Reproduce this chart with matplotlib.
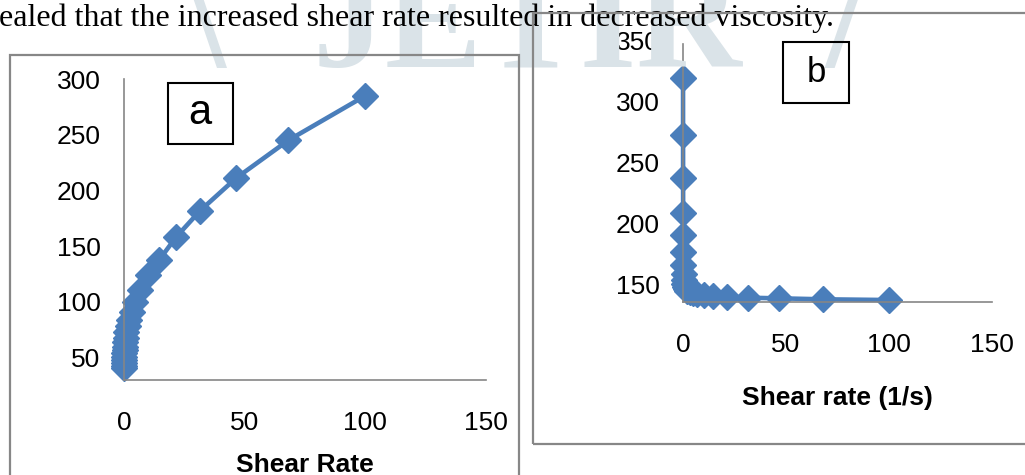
import matplotlib
matplotlib.use('Agg')
import matplotlib.pyplot as plt
from matplotlib.patches import Rectangle

# shear rates (1/s), shared by both panels
shear_rate = [0.0215, 0.0316, 0.0464, 0.0681, 0.1, 0.147, 0.215, 0.316, 0.464, 0.681,
              1, 1.47, 2.15, 3.16, 4.64, 6.81, 10, 14.7, 21.5, 31.6, 46.4, 68.1, 100]
# panel a: shear stress
stress_a = [41, 43, 45, 48, 51, 54, 57, 60, 64, 68,
            73, 78, 84, 91, 100, 111, 124, 138, 158, 182, 211, 245, 285]
# panel b: viscosity
visc_b = [319, 272, 237, 209, 191, 177, 166, 159, 154, 150.5,
          148, 146.5, 145.2, 144.2, 143.3, 142.6, 141.8, 141, 140.3, 139.5, 139, 138.2, 137.6]

xticks = [0, 50, 100, 150]
yticks_a = [50, 100, 150, 200, 250, 300]
yticks_b = [150, 200, 250, 300, 350]

W, H = 1025, 475
BLUE = '#4a7ebb'
GRAY = '#878787'
WM = '#dae3e8'
TICKFONT = ['Liberation Sans Narrow', 'Liberation Sans', 'DejaVu Sans']


def fx(x):
    return x / W


def fy(y):
    return 1 - y / H


def make_axes(fig, left, right, top, bottom):
    return fig.add_axes([fx(left), fy(bottom), (right - left) / W, (bottom - top) / H])


def style(ax):
    for s in ['top', 'right']:
        ax.spines[s].set_visible(False)
    for s in ['left', 'bottom']:
        ax.spines[s].set_color('#868686')
        ax.spines[s].set_linewidth(1.2)
    ax.patch.set_alpha(0)
    ax.tick_params(length=0)
    ax.tick_params(axis='x', pad=22)
    ax.tick_params(axis='y', pad=17)
    for lab in ax.get_xticklabels() + ax.get_yticklabels():
        lab.set_fontfamily(TICKFONT)
        lab.set_fontsize(19)


fig = plt.figure(figsize=(W / 100, H / 100), dpi=100)

# watermark
fig.text(fx(205), fy(67), '\\', family='Liberation Serif', weight='bold', fontsize=105,
         color=WM, ha='center', va='baseline', zorder=0)
fig.text(fx(527), fy(67), 'JETIR', family='Liberation Serif', weight='bold', fontsize=105,
         color=WM, ha='center', va='baseline', zorder=0)
fig.text(fx(846), fy(67), '/', family='Liberation Serif', weight='bold', fontsize=105,
         color=WM, ha='center', va='baseline', zorder=0)

# document text line
fig.text(fx(-1), fy(26), 'ealed that the increased shear rate resulted in decreased viscosity.',
         family='Liberation Serif', fontsize=23, ha='left', va='baseline', color='black', zorder=1)

# chart frames
fig.add_artist(Rectangle((fx(10), fy(520)), (519 - 10) / W, (520 - 55) / H, transform=fig.transFigure,
                         fill=False, edgecolor=GRAY, linewidth=1.6, zorder=2))
fig.add_artist(Rectangle((fx(533), fy(444)), (1100 - 533) / W, (444 - 13) / H, transform=fig.transFigure,
                         fill=False, edgecolor=GRAY, linewidth=1.6, zorder=2))

# panel a
ax1 = make_axes(fig, 124, 486, 79, 380)
ax1.plot(shear_rate, stress_a, color=BLUE, lw=3.3, marker='D', ms=13, mfc=BLUE, mec=BLUE, clip_on=False)
ax1.set_xlim(0, 150)
ax1.set_ylim(30, 300)
ax1.set_xticks(xticks)
ax1.set_yticks(yticks_a)
style(ax1)
ax1.set_xlabel('Shear Rate', fontsize=19, fontweight='bold', family='Liberation Sans', labelpad=13)
fig.text(fx(200), fy(113), 'a', fontsize=30, family='Liberation Sans', ha='center', va='center', zorder=5)
fig.add_artist(Rectangle((fx(168), fy(144)), 65 / W, 61 / H, transform=fig.transFigure,
                         fill=False, edgecolor='black', linewidth=1.5))

# panel b
ax2 = make_axes(fig, 683, 992, 40, 302)
ax2.plot(shear_rate, visc_b, color=BLUE, lw=3.3, marker='D', ms=13, mfc=BLUE, mec=BLUE, clip_on=False)
ax2.set_xlim(0, 150)
ax2.set_ylim(136, 350)
ax2.set_xticks(xticks)
ax2.set_yticks(yticks_b)
style(ax2)
ax2.spines['left'].set_bounds(136, 347)
ax2.set_xlabel('Shear rate (1/s)', fontsize=19, fontweight='bold', family='Liberation Sans', labelpad=21)
fig.text(fx(816), fy(73), 'b', fontsize=25, family='Liberation Sans', ha='center', va='center', zorder=5)
fig.add_artist(Rectangle((fx(783), fy(103)), 66 / W, 61 / H, transform=fig.transFigure,
                         fill=False, edgecolor='black', linewidth=1.5))

fig.savefig('out.png', dpi=100, facecolor='white')
